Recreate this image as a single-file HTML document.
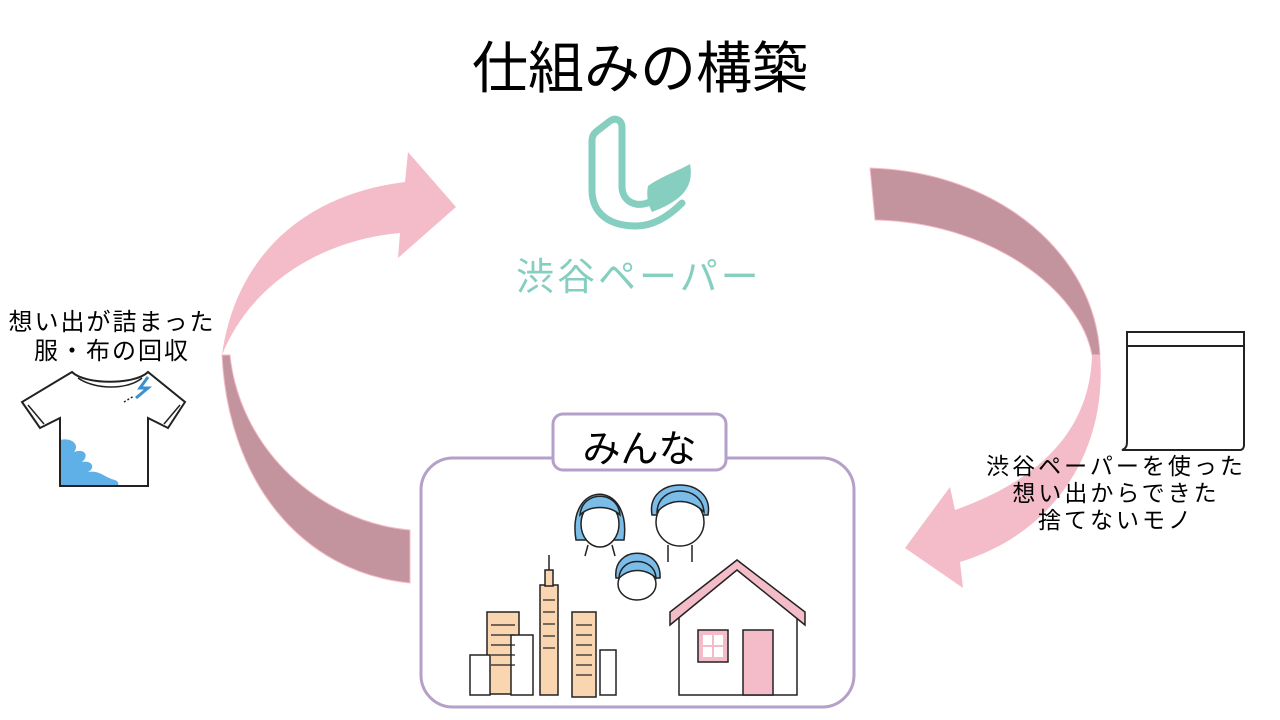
<!DOCTYPE html>
<html><head><meta charset="utf-8"><style>
html,body{margin:0;padding:0;background:#fff;}
body{width:1280px;height:720px;position:relative;overflow:hidden;font-family:"Liberation Sans","Noto Sans CJK JP",sans-serif;}
.t{position:absolute;white-space:nowrap;color:#000;}
</style></head><body>
<svg width="1280" height="720" style="position:absolute;left:0;top:0">
<!-- left arrow -->
<path d="M222 355 C235 260,300 195,405 182 L408 152 L456 207 L398 258 L400 233 C320 240,250 285,222 355 Z" fill="#f4bcc8"/>
<path d="M222 355 C228 480,300 572,410 583 L410 530 C320 522,240 450,230 355 Z" fill="#c4949e" stroke="#f4bcc8" stroke-width="1"/>
<!-- right arrow -->
<path d="M870 168 C1000 172,1095 255,1100 355 L1092 355 C1080 290,990 222,875 220 Z" fill="#c4949e" stroke="#f4bcc8" stroke-width="1"/>
<path d="M1100 355 C1108 455,1050 535,960 562 L963 588 L905 548 L950 487 L955 510 C1040 480,1090 430,1092 355 Z" fill="#f4bcc8"/>
<!-- logo -->
<path d="M622 188 L622 128 C622 120,616 117,610 121 L597 131 C593 134,592 137,592 141 L592 190 C592 214,610 226,636 226 C652 226,668 217,682 203" fill="none" stroke="#86cfc0" stroke-width="7" stroke-linejoin="round" stroke-linecap="round"/>
<path d="M622 186 C622 202,636 208,650 202" fill="none" stroke="#86cfc0" stroke-width="7" stroke-linecap="round"/>
<path d="M648 186 C662 176,680 170,690 164 C694 186,684 200,652 212 C648 205,646 195,648 186 Z" fill="#86cfc0"/>
<!-- box -->
<rect x="421" y="458" width="433" height="249" rx="32" fill="#fff" stroke="#b4a0c8" stroke-width="3"/>
<rect x="553" y="414" width="173" height="56" rx="10" fill="#fff" stroke="#b4a0c8" stroke-width="3"/>
<!-- people -->
<g stroke="#222" stroke-width="1.5">
<path d="M576 540 C566 480,632 478,624 540 Z" fill="#7bbde8"/>
<ellipse cx="600" cy="524" rx="19" ry="23" fill="#fff"/>
<path d="M580 515 C582 490,618 490,620 515 C610 505,590 505,580 515 Z" fill="#7bbde8"/>
<path d="M588 545 L585 556 M612 545 L615 556" fill="none"/>
<path d="M652 515 C645 475,715 475,708 515 Z" fill="#7bbde8"/>
<ellipse cx="680" cy="522" rx="24" ry="24" fill="#fff"/>
<path d="M657 512 C658 484,702 484,704 512 C690 498,670 498,657 512 Z" fill="#7bbde8"/>
<path d="M668 545 L668 562 M692 545 L692 562" fill="none"/>
<path d="M616 578 C612 545,662 545,660 578 Z" fill="#7bbde8"/>
<ellipse cx="637" cy="584" rx="19" ry="16" fill="#fff"/>
<path d="M619 578 C620 556,655 556,656 578 C645 568,630 568,619 578 Z" fill="#7bbde8"/>
</g>
<!-- buildings -->
<g stroke="#222" stroke-width="1.5" fill="#fff">
<rect x="487" y="612" width="32" height="82" fill="#f9d6b0"/>
<rect x="511" y="635" width="22" height="60"/>
<rect x="540" y="585" width="18" height="110" fill="#f9d6b0"/>
<rect x="545" y="570" width="8" height="16" fill="#f9d6b0"/>
<line x1="549" y1="555" x2="549" y2="570"/>
<rect x="572" y="612" width="24" height="85" fill="#f9d6b0"/>
<rect x="470" y="655" width="20" height="40"/>
<rect x="600" y="650" width="16" height="45"/>
</g>
<g stroke="#222" stroke-width="1.2">
<line x1="491" y1="625" x2="515" y2="625"/><line x1="491" y1="635" x2="515" y2="635"/><line x1="491" y1="645" x2="515" y2="645"/><line x1="491" y1="655" x2="515" y2="655"/><line x1="491" y1="665" x2="515" y2="665"/>
<line x1="543" y1="600" x2="555" y2="600"/><line x1="543" y1="612" x2="555" y2="612"/><line x1="543" y1="624" x2="555" y2="624"/><line x1="543" y1="636" x2="555" y2="636"/><line x1="543" y1="648" x2="555" y2="648"/>
<line x1="576" y1="625" x2="592" y2="625"/><line x1="576" y1="635" x2="592" y2="635"/><line x1="576" y1="645" x2="592" y2="645"/><line x1="576" y1="655" x2="592" y2="655"/><line x1="576" y1="665" x2="592" y2="665"/><line x1="576" y1="675" x2="592" y2="675"/>
</g>
<!-- house -->
<path d="M670 625 L737 570 L805 625 L805 612 L737 560 L670 612 Z" fill="#f4bcc8" stroke="#222" stroke-width="1.5"/>
<path d="M679 618 L679 695 L797 695 L797 618" fill="none" stroke="#222" stroke-width="1.5"/>
<rect x="698" y="630" width="30" height="32" fill="#f4bcc8" stroke="#222" stroke-width="1.5"/>
<rect x="703" y="635" width="9" height="10" fill="#fff"/><rect x="714" y="635" width="9" height="10" fill="#fff"/>
<rect x="703" y="647" width="9" height="10" fill="#fff"/><rect x="714" y="647" width="9" height="10" fill="#fff"/>
<rect x="743" y="630" width="30" height="65" fill="#f4bcc8" stroke="#222" stroke-width="1.5"/>
<!-- t-shirt -->
<path d="M60 440 C72 437,80 445,74 452 C84 448,90 455,82 462 C92 460,96 468,88 472 C100 470,105 478,115 480 C120 482,118 486,118 486 L60 486 Z" fill="#5fb0e6"/>
<path d="M72 372 L22 402 L40 428 L60 418 L60 486 L148 486 L148 418 L168 428 L185 402 L148 372 C135 385,85 385,72 372 Z" fill="none" stroke="#222" stroke-width="2"/>
<path d="M78 378 C95 390,128 390,142 378" fill="none" stroke="#222" stroke-width="1.5"/>
<path d="M28 405 L44 424 M180 405 L164 424" stroke="#222" stroke-width="1.5"/>
<path d="M148 377 L140 388 L148 388 L136 398" fill="none" stroke="#3a90d0" stroke-width="3"/>
<path d="M124 402 L134 396" stroke="#222" stroke-width="1.5" stroke-dasharray="2,2"/>
<!-- paper -->
<path d="M1127 332 L1244 332 L1244 445 C1244 450,1240 450,1240 450 L1122 450 C1127 448,1127 445,1127 440 Z" fill="#fff" stroke="#222" stroke-width="2"/>
<line x1="1127" y1="346" x2="1244" y2="346" stroke="#222" stroke-width="2"/>
</svg>
<div class="t" style="left:0;width:1280px;text-align:center;top:24px;font-size:56px;">仕組みの構築</div>
<div class="t" style="left:516px;top:246px;font-size:38px;color:#86cfc0;letter-spacing:3px;">渋谷ペーパー</div>
<div class="t" style="left:553px;width:173px;text-align:center;top:418px;font-size:38px;">みんな</div>
<div class="t" style="left:0;width:224px;text-align:center;top:308px;font-size:24px;line-height:29px;letter-spacing:2px;">想い出が詰まった<br>服・布の回収</div>
<div class="t" style="left:966px;width:300px;text-align:center;top:453px;font-size:23px;line-height:27px;letter-spacing:3px;">渋谷ペーパーを使った<br>想い出からできた<br>捨てないモノ</div>
</body></html>
